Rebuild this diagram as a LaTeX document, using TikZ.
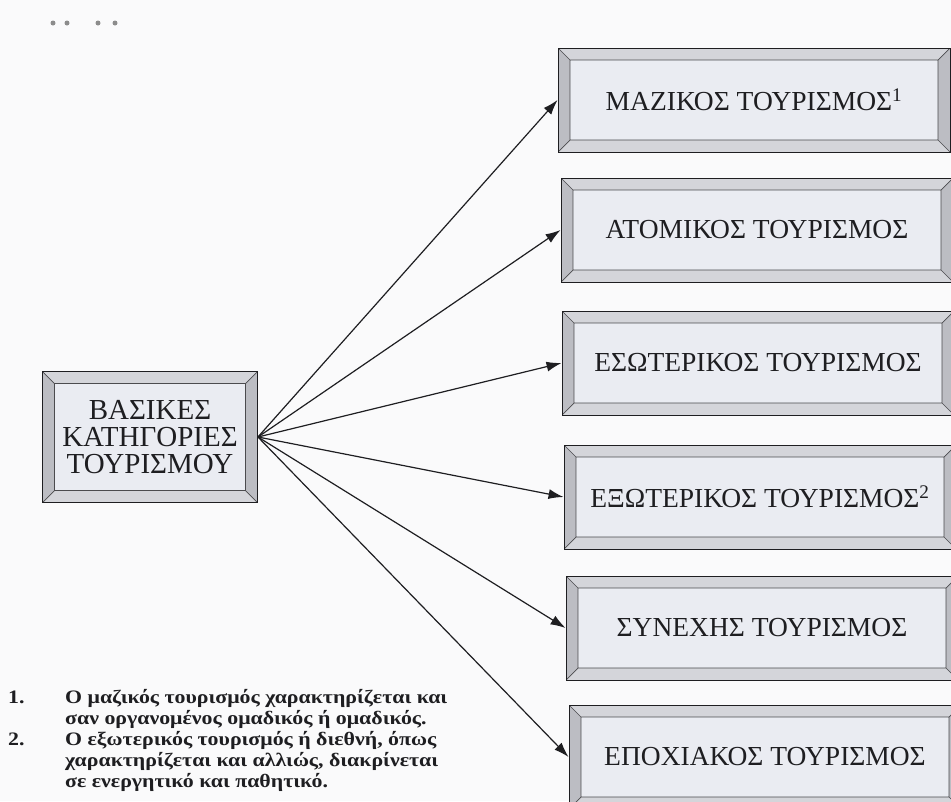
\documentclass[tikz,border=0pt]{standalone}
\usepackage{fontspec}
\setmainfont{Liberation Serif}
\newfontfamily\notefont[FakeStretch=1.15]{Liberation Serif}
\usetikzlibrary{arrows.meta, calc}

\definecolor{paper}{RGB}{250,250,251}
\definecolor{beveltop}{RGB}{212,213,218}
\definecolor{bevelside}{RGB}{188,189,195}
\definecolor{bevelin}{RGB}{234,236,242}
\definecolor{ink}{RGB}{30,30,33}

\tikzset{
  bevelbox/.style={draw=ink, line width=0.9pt, fill=beveltop, inner sep=0pt,
    text=ink, align=center, font=\fontsize{29}{27}\selectfont,
    path picture={
      \path (path picture bounding box.north west) coordinate (onw)
            (path picture bounding box.south east) coordinate (ose);
      \path (ose |- onw) coordinate (one) (onw |- ose) coordinate (osw)
            ($(onw)+(12,12)$) coordinate (inw) ($(ose)+(-12,-12)$) coordinate (ise)
            (ise |- inw) coordinate (ine) (inw |- ise) coordinate (isw);
      \fill[bevelside] (onw) -- (inw) -- (isw) -- (osw) -- cycle;
      \fill[bevelside] (one) -- (ine) -- (ise) -- (ose) -- cycle;
      \fill[bevelin] (inw) rectangle (ise);
      \draw[ink!80, line width=0.7pt] (inw) rectangle (ise)
        (onw) -- (inw) (one) -- (ine) (ose) -- (ise) (osw) -- (isw);
    }},
  catbox/.style={bevelbox, minimum width=392pt, minimum height=104pt,
    font=\fontsize{27.5}{27}\selectfont},
  note/.style={anchor=base west, inner sep=0pt, text=ink,
    font=\notefont\fontsize{19}{21}\selectfont\bfseries, align=left},
}

\begin{document}
\begin{tikzpicture}[x=1pt, y=-1pt, >={Latex[length=15pt,width=10pt]}]
  \fill[paper] (0,0) rectangle (951,801);
  \useasboundingbox (0,0) rectangle (951,801);
  \clip (0,0) rectangle (951,801);
  % specks from the scan
  \foreach \x in {53,67,98,115} \fill[black!45] (\x,23) circle (2.5);

  \node[bevelbox, minimum width=215pt, minimum height=131pt] (base) at (150,437)
    {ΒΑΣΙΚΕΣ\\ΚΑΤΗΓΟΡΙΕΣ\\ΤΟΥΡΙΣΜΟΥ};

  \node[catbox] (mass)     at (754,100) {ΜΑΖΙΚΟΣ ΤΟΥΡΙΣΜΟΣ\textsuperscript{1}};
  \node[catbox] (single)   at (757,230) {ΑΤΟΜΙΚΟΣ ΤΟΥΡΙΣΜΟΣ};
  \node[catbox] (domestic) at (758,363) {ΕΣΩΤΕΡΙΚΟΣ ΤΟΥΡΙΣΜΟΣ};
  \node[catbox] (foreign)  at (760,497) {ΕΞΩΤΕΡΙΚΟΣ ΤΟΥΡΙΣΜΟΣ\textsuperscript{2}};
  \node[catbox] (constant) at (762,628) {ΣΥΝΕΧΗΣ ΤΟΥΡΙΣΜΟΣ};
  \node[catbox] (seasonal) at (765,757) {ΕΠΟΧΙΑΚΟΣ ΤΟΥΡΙΣΜΟΣ};

  \path[->, color=ink, line width=1.2pt]
    (base.east) edge (mass.west)
    (base.east) edge (single.west)
    (base.east) edge (domestic.west)
    (base.east) edge (foreign.west)
    (base.east) edge (constant.west)
    (base.east) edge (seasonal.west)
    ;

  % footnotes (anchored at the last line)
  \node[note] (n1)  at (8,703)  {1.};
  \node[note] (n1t) at (65,724) {Ο μαζικός τουρισμός χαρακτηρίζεται και\\σαν οργανομένος ομαδικός ή ομαδικός.};
  \node[note] (n2)  at (8,745)  {2.};
  \node[note] (n2t) at (65,787) {Ο εξωτερικός τουρισμός ή διεθνή, όπως\\χαρακτηρίζεται και αλλιώς, διακρίνεται\\σε ενεργητικό και παθητικό.};
\end{tikzpicture}
\end{document}
